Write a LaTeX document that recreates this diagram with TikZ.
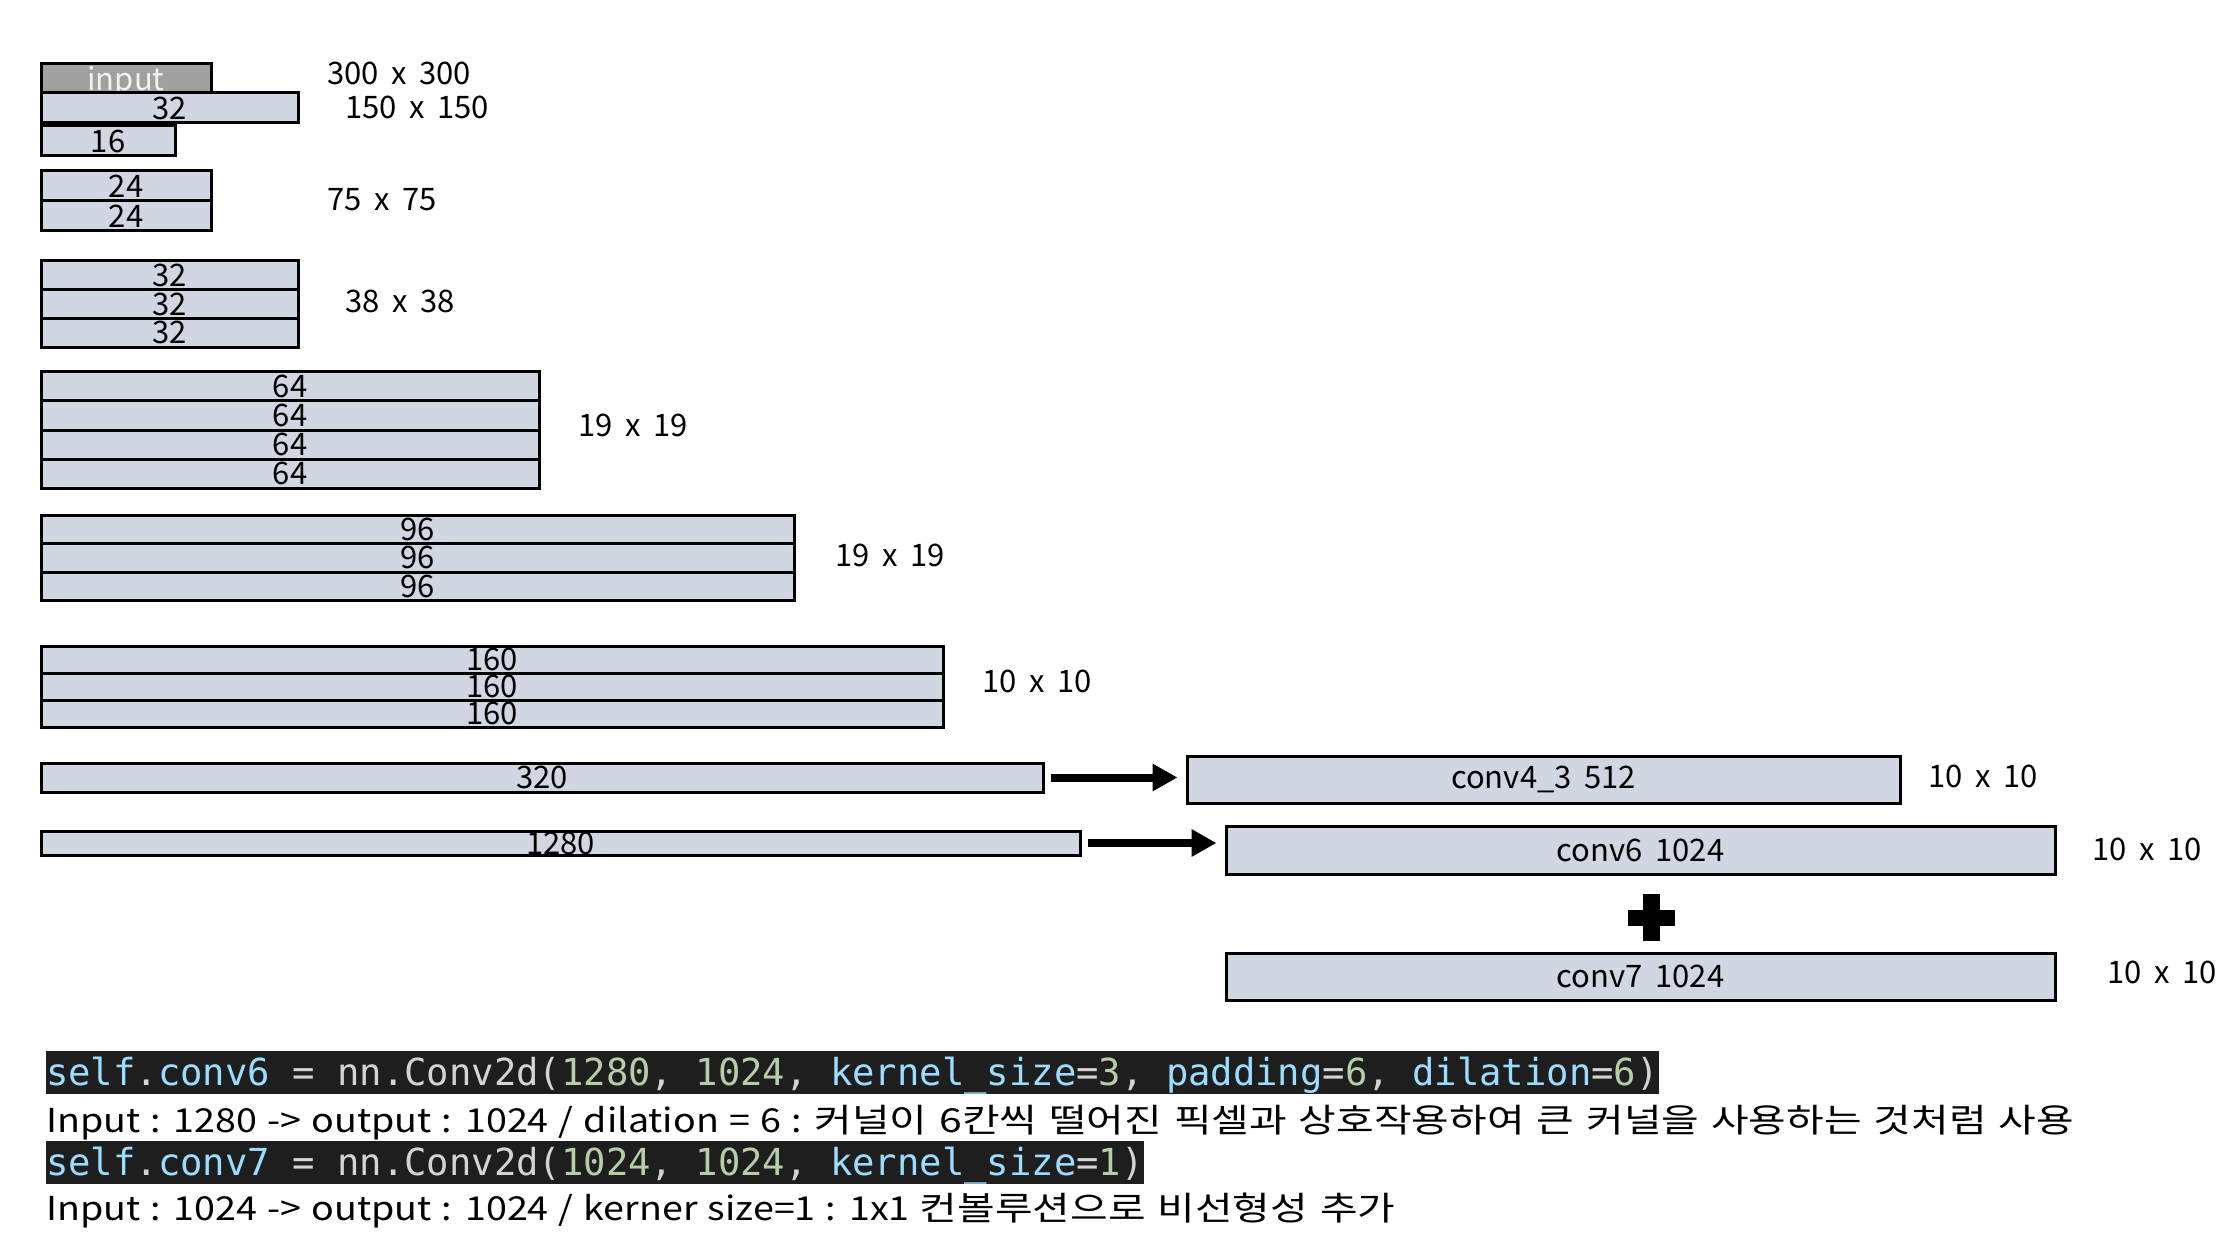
\documentclass[tikz,border=0pt]{standalone}
\usepackage{fontspec}
\setmainfont{Noto Sans CJK KR}[WordSpace=1.8]
\newfontfamily\notefont{Noto Sans CJK KR}[FakeStretch=1.14,WordSpace=1.2]
\newfontfamily\krfont{Noto Sans CJK KR}[FakeStretch=1.24,WordSpace=1.3]
\newfontfamily\codefont{DejaVu Sans Mono}
\usetikzlibrary{arrows.meta,positioning}

\definecolor{boxfill}{HTML}{D0D7E2}
\definecolor{inputfill}{HTML}{A0A0A0}
\definecolor{inputtext}{HTML}{F2F2F2}
\definecolor{codebg}{HTML}{1E1E1E}
\definecolor{codeblue}{HTML}{9CDCFE}
\definecolor{codegray}{HTML}{D4D4D4}
\definecolor{codegreen}{HTML}{B5CEA8}
\newcommand{\boxfont}{\fontsize{31}{37}\selectfont}
\newcommand{\ckw}[1]{\textcolor{codeblue}{#1}}
\newcommand{\cnum}[1]{\textcolor{codegreen}{#1}}

\begin{document}
\begin{tikzpicture}[x=1pt,y=-1pt,
    box/.style={draw,line width=3pt,fill=boxfill,inner sep=0pt,outer sep=0pt,minimum height=29pt,font=\boxfont},
    dim/.style={anchor=west,inner sep=0pt,font=\boxfont},
    arrow/.style={-{Triangle[length=25pt,width=26pt]},line width=8pt,shorten <=8pt,shorten >=9.5pt},
    code/.style={fill=codebg,text=codegray,inner sep=0pt,text height=34pt,text depth=9pt,font=\codefont\fontsize{37.2}{44}\selectfont},
    note/.style={inner sep=0pt,font=\notefont\fontsize{33}{40}\selectfont}
]
\useasboundingbox (0,0) rectangle (2238,1238);

\node[box,fill=inputfill,text=inputtext,text depth=0pt,minimum width=170pt,anchor=north west] (input) at (41,64) {input};
\node[box,minimum width=257pt,minimum height=30pt,below right=0pt and 0pt of input.south west] (c32) {32};
\node[box,minimum width=134pt,minimum height=30pt,below right=3pt and 0pt of c32.south west] (c16) {16};

\node[box,minimum width=170pt,minimum height=30pt,anchor=north west] (c24a) at (41,171) {24};
\node[box,minimum width=170pt,minimum height=30pt,below=0pt of c24a] (c24b) {24};

\node[box,minimum width=257pt,minimum height=28.7pt,anchor=north west] (c32a) at (41,261) {32};
\node[box,minimum width=257pt,minimum height=28.7pt,below=0pt of c32a] (c32b) {32};
\node[box,minimum width=257pt,minimum height=28.7pt,below=0pt of c32b] (c32c) {32};

\node[box,minimum width=498pt,anchor=north west] (c64a) at (41,372) {64};
\node[box,minimum width=498pt,below=0pt of c64a] (c64b) {64};
\node[box,minimum width=498pt,below=0pt of c64b] (c64c) {64};
\node[box,minimum width=498pt,below=0pt of c64c] (c64d) {64};

\node[box,minimum width=753pt,minimum height=28.5pt,anchor=north west] (c96a) at (41,515) {96};
\node[box,minimum width=753pt,minimum height=28.5pt,below=0pt of c96a] (c96b) {96};
\node[box,minimum width=753pt,minimum height=28.5pt,below=0pt of c96b] (c96c) {96};

\node[box,minimum width=902pt,minimum height=27pt,anchor=north west] (c160a) at (41,646) {160};
\node[box,minimum width=902pt,minimum height=27pt,below=0pt of c160a] (c160b) {160};
\node[box,minimum width=902pt,minimum height=27pt,below=0pt of c160b] (c160c) {160};

\node[box,minimum width=1002pt,anchor=north west] (c320) at (41,763) {320};
\node[box,minimum width=1039pt,minimum height=24pt,anchor=north west] (c1280) at (41,831) {1280};

\node[box,minimum width=713pt,minimum height=47pt,anchor=north west] (conv43) at (1187,756) {conv4\_3 512};
\node[box,minimum width=829pt,minimum height=48pt,anchor=north west] (conv6) at (1226,826) {conv6 1024};
\node[box,minimum width=829pt,minimum height=47pt,anchor=north west] (conv7) at (1226,953) {conv7 1024};

\node[dim] (d300) at (327,73) {300 x 300};
\node[dim] (d150) at (345,107) {150 x 150};
\node[dim] (d75) at (327,200) {75 x 75};
\node[dim] (d38) at (345,301) {38 x 38};
\node[dim] (d19a) at (578,425) {19 x 19};
\node[dim] (d19b) at (835,555) {19 x 19};
\node[dim] (d10a) at (982,681) {10 x 10};
\node[dim] (d10b) at (1928,776) {10 x 10};
\node[dim] (d10c) at (2092,849) {10 x 10};
\node[dim] (d10d) at (2107,972) {10 x 10};

\draw[arrow] (c320) -- (c320 -| conv43.west);
\draw[arrow] (c1280) -- (c1280 -| conv6.west);

\coordinate (plus) at (1651.5,917.5);
\fill ([xshift=-23.5pt,yshift=-8pt]plus) rectangle ([xshift=23.5pt,yshift=8pt]plus);
\fill ([xshift=-8.5pt,yshift=-23.5pt]plus) rectangle ([xshift=8.5pt,yshift=23.5pt]plus);

\node[code,anchor=north west] (code6) at (46,1051) {\ckw{self}.\ckw{conv6} = nn.Conv2d(\cnum{1280}, \cnum{1024}, \ckw{kernel\_size}=\cnum{3}, \ckw{padding}=\cnum{6}, \ckw{dilation}=\cnum{6})};
\node[note,anchor=base west] (note6) at (46,1132) {Input : 1280 -> output : 1024 / dilation = 6 : {\krfont 커널이 6칸씩 떨어진 픽셀과 상호작용하여 큰 커널을 사용하는 것처럼 사용}};
\node[code,anchor=north west] (code7) at (46,1141) {\ckw{self}.\ckw{conv7} = nn.Conv2d(\cnum{1024}, \cnum{1024}, \ckw{kernel\_size}=\cnum{1})};
\node[note,anchor=base west] (note7) at (46,1220) {Input : 1024 -> output : 1024 / kerner size=1 : 1x1 {\krfont 컨볼루션으로 비선형성 추가}};

\end{tikzpicture}
\end{document}
